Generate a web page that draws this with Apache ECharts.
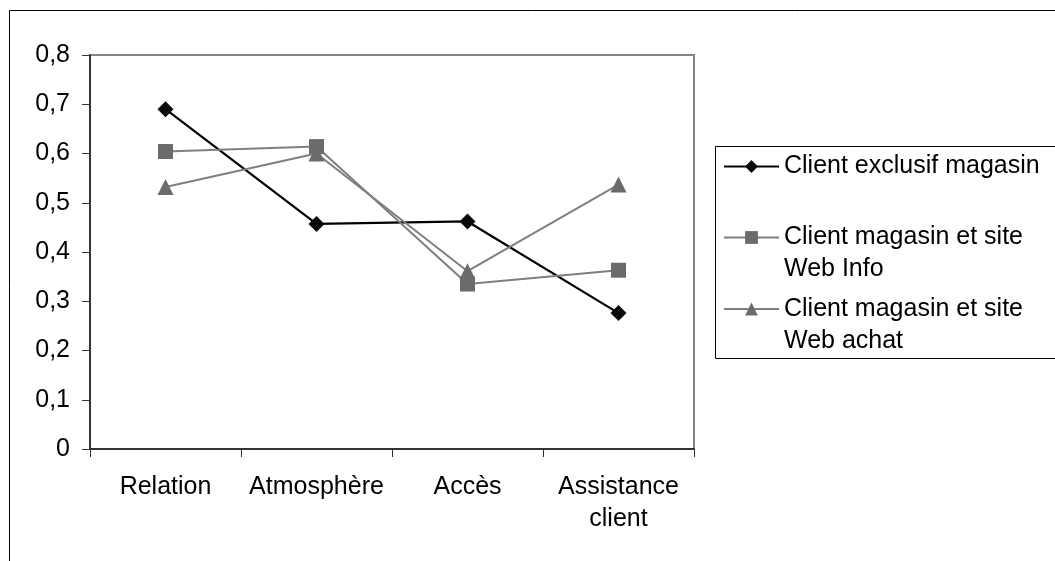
<!DOCTYPE html>
<html>
<head>
<meta charset="utf-8">
<script src="https://cdn.jsdelivr.net/npm/echarts@6/dist/echarts.min.js"></script>
<style>
html,body{margin:0;padding:0;background:#fff;}
#chart{width:1055px;height:561px;}
</style>
</head>
<body>
<div id="chart"></div>
<script>
const categories = ['Relation', 'Atmosphère', 'Accès', 'Assistance\nclient'];
const seriesNames = ['Client exclusif magasin', 'Client magasin et site Web Info', 'Client magasin et site Web achat'];
const legendLabels = ['Client exclusif magasin', '\nClient magasin et site\nWeb Info', '\nClient magasin et site\nWeb achat'];
const exclusifMagasin = [0.690, 0.457, 0.462, 0.276];
const magasinWebInfo = [0.604, 0.614, 0.335, 0.363];
const magasinWebAchat = [0.532, 0.600, 0.361, 0.537];
const yTickLabels = ['0', '0,1', '0,2', '0,3', '0,4', '0,5', '0,6', '0,7', '0,8'];

const FONT = 'Liberation Sans, Arial, sans-serif';
const chart = echarts.init(document.getElementById('chart'), null, {renderer: 'canvas'});

function legendFor(i, top) {
  return {
    data: [seriesNames[i]],
    orient: 'vertical',
    left: 723,
    top: top,
    padding: 0,
    itemWidth: 55,
    itemHeight: 16,
    selectedMode: false,
    formatter: function (name) { return legendLabels[seriesNames.indexOf(name)]; },
    textStyle: {fontFamily: FONT, fontSize: 25, lineHeight: 32, color: '#000'}
  };
}

const option = {
  backgroundColor: '#fff',
  animation: false,
  graphic: [
    {type: 'rect', shape: {x: 9.5, y: 10.5, width: 2000, height: 2000},
     style: {fill: 'none', stroke: '#000', lineWidth: 1}, silent: true, z: -10},
    {type: 'rect', shape: {x: 715.5, y: 146.5, width: 400, height: 212},
     style: {fill: 'none', stroke: '#000', lineWidth: 1}, silent: true, z: -10}
  ],
  legend: [
    legendFor(0, 150.5),
    legendFor(1, 189.5),
    legendFor(2, 261)
  ],
  grid: {
    left: 90, top: 55, right: 361, bottom: 112,
    show: true, borderColor: '#858585', borderWidth: 2, backgroundColor: 'transparent'
  },
  xAxis: {
    type: 'category',
    data: categories,
    boundaryGap: true,
    axisLine: {show: true, lineStyle: {color: '#333', width: 2}},
    axisTick: {show: true, length: 8, interval: 0, alignWithLabel: false, lineStyle: {color: '#333', width: 1}},
    axisLabel: {interval: 0, margin: 22, fontFamily: FONT, fontSize: 25, lineHeight: 32, color: '#000'},
    splitLine: {show: false}
  },
  yAxis: {
    type: 'value',
    min: 0, max: 0.8, interval: 0.1,
    axisLine: {show: true, lineStyle: {color: '#333', width: 2}},
    axisTick: {show: true, length: 8, lineStyle: {color: '#333', width: 1}},
    axisLabel: {
      margin: 20, fontFamily: FONT, fontSize: 25, color: '#000',
      formatter: function (v) { return yTickLabels[Math.round(v * 10)]; }
    },
    splitLine: {show: false}
  },
  series: [
    {
      name: seriesNames[0], type: 'line', data: exclusifMagasin,
      symbol: 'diamond', symbolSize: 16,
      lineStyle: {color: '#000', width: 2.2},
      itemStyle: {color: '#0a0a0a', borderWidth: 0},
      z: 2
    },
    {
      name: seriesNames[1], type: 'line', data: magasinWebInfo,
      symbol: 'rect', symbolSize: 15,
      lineStyle: {color: '#7f7f7f', width: 2},
      itemStyle: {color: '#6b6b6b', borderWidth: 0},
      z: 3
    },
    {
      name: seriesNames[2], type: 'line', data: magasinWebAchat,
      symbol: 'triangle', symbolSize: 16,
      lineStyle: {color: '#7f7f7f', width: 2},
      itemStyle: {color: '#6b6b6b', borderWidth: 0},
      z: 4
    }
  ]
};
chart.setOption(option);
</script>
</body>
</html>
